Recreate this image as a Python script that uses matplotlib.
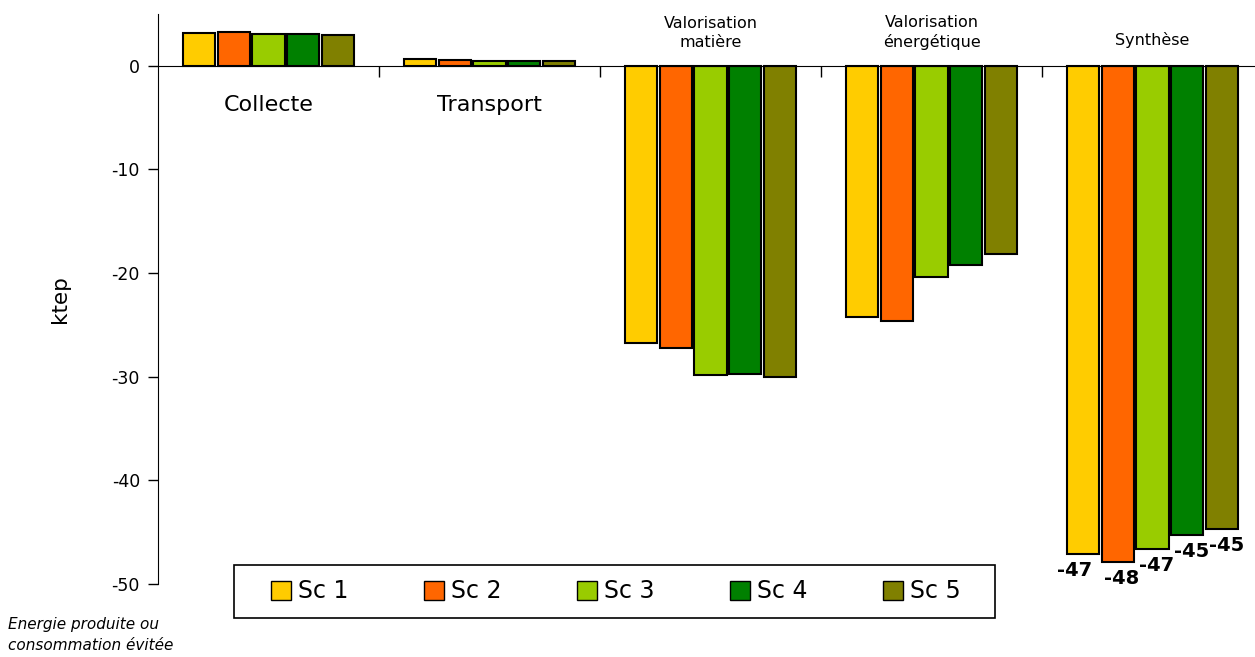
import matplotlib.pyplot as plt
import matplotlib.patches as mpatches
import numpy as np

plt.rcParams['axes.unicode_minus'] = False

categories = ['Collecte', 'Transport', 'Valorisation\nmatière',
              'Valorisation\nénergétique', 'Synthèse']
scenarios = ['Sc 1', 'Sc 2', 'Sc 3', 'Sc 4', 'Sc 5']
colors = ['#FFCC00', '#FF6600', '#99CC00', '#008000', '#808000']

# ktep per category, one list per scenario
sc1 = [3.2, 0.65, -26.7, -24.2, -47.1]
sc2 = [3.3, 0.55, -27.2, -24.6, -47.9]
sc3 = [3.1, 0.5, -29.8, -20.4, -46.6]
sc4 = [3.1, 0.5, -29.7, -19.2, -45.3]
sc5 = [3.0, 0.45, -30.0, -18.2, -44.7]
synth_labels = ['-47', '-48', '-47', '-45', '-45']

series = [sc1, sc2, sc3, sc4, sc5]

fig = plt.figure(figsize=(12.55, 6.57), dpi=100)
ax = fig.add_axes([158 / 1255, 1 - 584 / 657, 1105 / 1255, 570 / 657])

x = np.arange(len(categories))
slot = 0.158
width = 0.145
for i, vals in enumerate(series):
    xs = x + (i - 2) * slot
    bars = ax.bar(xs, vals, width, color=colors[i], edgecolor='black',
                  linewidth=1.5, label=scenarios[i], zorder=2)
    # value label under the Synthèse bar
    b = bars[-1]
    ax.annotate(synth_labels[i], (b.get_x() + b.get_width() / 2, b.get_height()),
                xytext=(-6 if i == 0 else 3, -5), textcoords='offset points',
                ha='center', va='top', fontsize=14, fontweight='bold')

ax.set_xlim(-0.5, 4.5)
ax.set_ylim(-50, 5)
ax.set_yticks([0, -10, -20, -30, -40, -50])
ax.tick_params(axis='y', labelsize=12.5, direction='out', length=7, width=1, pad=6)
ax.set_ylabel('ktep', fontsize=15.5, labelpad=30)

ax.spines['top'].set_visible(False)
ax.spines['right'].set_visible(False)
ax.spines['bottom'].set_position(('data', 0))
ax.spines['bottom'].set_zorder(3)
ax.set_xticks(np.arange(0.5, 4.5, 1))
ax.set_xticklabels([])
ax.tick_params(axis='x', direction='out', length=8, width=1)

# category names
for xi, name, vals in zip(x, categories, sc1):
    if vals > 0:
        ax.text(xi, -3.8, name, ha='center', va='center', fontsize=16)
    elif '\n' in name:
        ax.text(xi, 3.2, name, ha='center', va='center', fontsize=11.5,
                linespacing=1.35)
    else:
        ax.text(xi, 2.5, name, ha='center', va='center', fontsize=11.5)

# legend box drawn separately so the entries can sit inside with wider margins
frame = mpatches.Rectangle((234 / 1255, 1 - 618 / 657), 761 / 1255, 53 / 657,
                           transform=fig.transFigure, facecolor='white',
                           edgecolor='black', linewidth=1.2, clip_on=False,
                           zorder=4)
ax.add_patch(frame)
leg = ax.legend(loc='center', ncol=5, mode='expand', fontsize=17,
                bbox_to_anchor=(271 / 1255, 1 - 618 / 657, 690 / 1255, 53 / 657),
                bbox_transform=fig.transFigure, frameon=False,
                handlelength=0.85, handleheight=0.9,
                handletextpad=0.3, borderaxespad=0, borderpad=0)
leg.set_zorder(6)
for h in leg.legend_handles:
    h.set_linewidth(1)

fig.text(8 / 1255, 1 - 635 / 657, 'Energie produite ou\nconsommation évitée',
         fontsize=11, style='italic', va='center', ha='left', linespacing=1.45)

fig.savefig('out.png', dpi=100)
